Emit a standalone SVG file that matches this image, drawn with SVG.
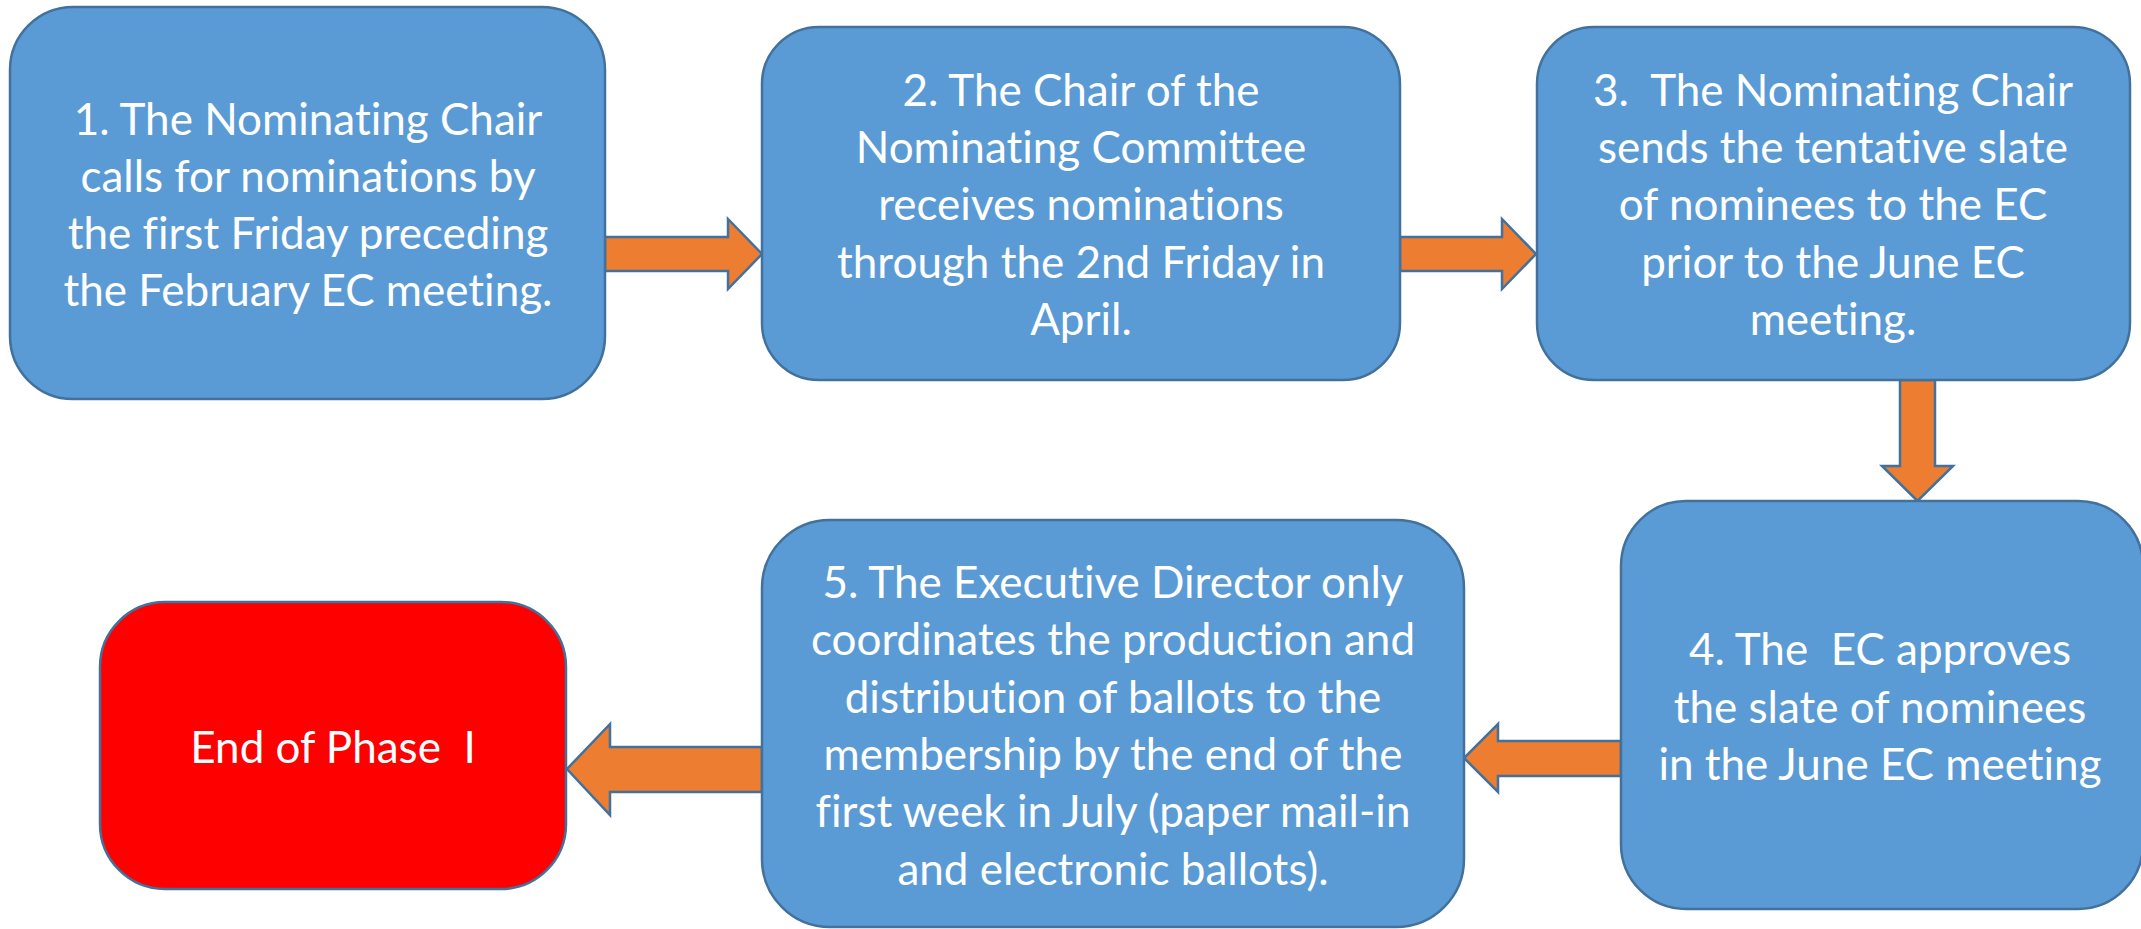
<svg xmlns="http://www.w3.org/2000/svg" width="2141" height="929" viewBox="0 0 2141 929">
<style>
.box{fill:#5B9BD5;stroke:#41719C;stroke-width:2.5}
.end{fill:#FF0000;stroke:#41719C;stroke-width:2.5}
.arr{fill:#ED7D31;stroke:#41719C;stroke-width:2.5;stroke-linejoin:miter}
text{font-family:Lato,"Open Sans","Liberation Sans",sans-serif;font-size:44px;fill:#FFFFFF;text-anchor:middle;font-variant-ligatures:none;white-space:pre}
</style>
<rect width="2141" height="929" fill="#FFFFFF"/>
<g id="connectors">
<polygon class="arr" points="605,237 728,237 728,219 762,254 728,289 728,271 605,271"/>
<polygon class="arr" points="1400,237 1502,237 1502,219 1536,254 1502,289 1502,271 1400,271"/>
<polygon class="arr" points="1900,380 1935,380 1935,466 1953,466 1917.5,501 1882,466 1900,466"/>
<polygon class="arr" points="1621,741 1498,741 1498,724 1464,758 1498,792 1498,776 1621,776"/>
<polygon class="arr" points="762,747 610,747 610,724 567,769 610,815 610,792 762,792"/>
</g>
<g id="node1">
<rect class="box" x="10" y="7" width="595" height="392" rx="63" ry="63"/>
<text x="308" y="135">1. The Nominating Chair</text>
<text x="308" y="192">calls for nominations by</text>
<text x="308" y="249">the first Friday preceding</text>
<text x="308" y="306">the February EC meeting.</text>
</g>
<g id="node2">
<rect class="box" x="762" y="27" width="638" height="353" rx="57" ry="57"/>
<text x="1081" y="106">2. The Chair of the</text>
<text x="1081" y="163">Nominating Committee</text>
<text x="1081" y="220">receives nominations</text>
<text x="1081" y="278">through the 2nd Friday in</text>
<text x="1081" y="335">April.</text>
</g>
<g id="node3">
<rect class="box" x="1537" y="27" width="593" height="353" rx="57" ry="57"/>
<text x="1833" y="106" xml:space="preserve">3.  The Nominating Chair</text>
<text x="1833" y="163">sends the tentative slate</text>
<text x="1833" y="220">of nominees to the EC</text>
<text x="1833" y="278">prior to the June EC</text>
<text x="1833" y="335">meeting.</text>
</g>
<g id="node4">
<rect class="box" x="1621" y="501" width="522" height="408" rx="65" ry="65"/>
<text x="1880" y="665" xml:space="preserve">4. The  EC approves</text>
<text x="1880" y="723">the slate of nominees</text>
<text x="1880" y="780">in the June EC meeting</text>
</g>
<g id="node5">
<rect class="box" x="762" y="520" width="702" height="407" rx="68" ry="68"/>
<text x="1113" y="598">5. The Executive Director only</text>
<text x="1113" y="655">coordinates the production and</text>
<text x="1113" y="713">distribution of ballots to the</text>
<text x="1113" y="770">membership by the end of the</text>
<text x="1113" y="827">first week in July (paper mail-in</text>
<text x="1113" y="885">and electronic ballots).</text>
</g>
<g id="node6">
<rect class="end" x="100" y="602" width="466" height="287" rx="65" ry="65"/>
<text x="333" y="763" xml:space="preserve">End of Phase  I</text>
</g>
</svg>
